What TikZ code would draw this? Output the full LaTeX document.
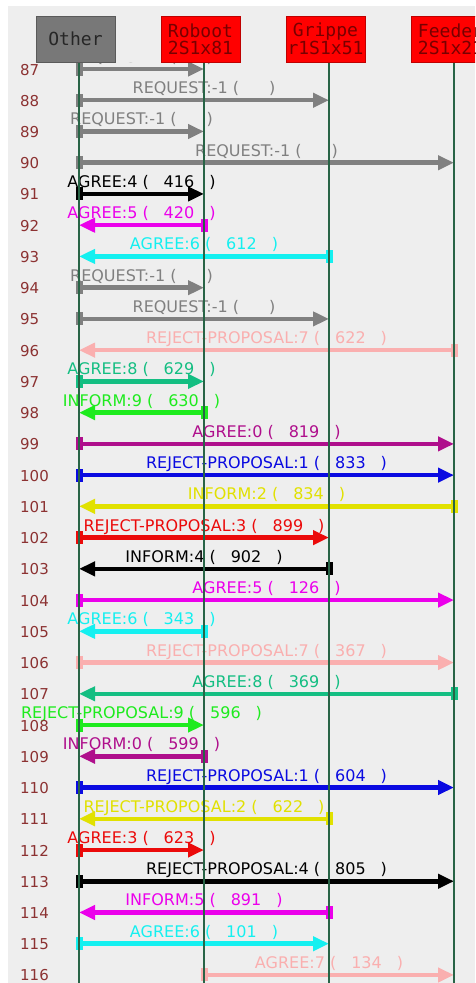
\documentclass[tikz,border=0pt]{standalone}
\usepackage{fontspec}
\setmainfont{DejaVu Sans}
\newfontfamily\hdmono{DejaVu Sans Mono}
\usetikzlibrary{arrows.meta, positioning, calc}
\definecolor{bgray} {RGB}{238,238,238}
\definecolor{lline} {RGB}{ 40,100, 70}
\definecolor{rownum}{RGB}{140, 50, 50}
\definecolor{hgray} {RGB}{120,120,120}
\definecolor{hdred} {RGB}{255,  0,  0}
\definecolor{hdtxt} {RGB}{120,  0,  0}
\definecolor{mgray} {RGB}{128,128,128}
\definecolor{mmag}  {RGB}{235,  0,235}
\definecolor{mcyan} {RGB}{ 20,240,240}
\definecolor{mpink} {RGB}{250,175,175}
\definecolor{mteal} {RGB}{ 20,190,130}
\definecolor{mgrn}  {RGB}{ 30,235, 30}
\definecolor{mpurp} {RGB}{175, 15,140}
\definecolor{mblue} {RGB}{ 10, 10,225}
\definecolor{myel}  {RGB}{225,225,  0}
\definecolor{mred}  {RGB}{235, 10, 10}
\newcommand{\msgtext}[2]{#1 (\hspace{15pt}#2\hspace{15pt})}
\tikzset{
  % Header box on top of a lifeline
  HB/.style={rectangle,draw=#1!75!black,fill=#1,line width=0.8pt,
             minimum width=79pt,minimum height=46pt,inner sep=0pt,
             align=center,font=\hdmono\fontsize{18pt}{17pt}\selectfont},
  % Lifeline
  LL/.style={line width=1.4pt,color=lline},
  % Message arrow
  MA/.style={-{Triangle[length=16pt,width=14pt]},line width=4.5pt,color=#1},
  % Sender mark
  SM/.style={rectangle,fill=#1,minimum width=7pt,minimum height=13pt,
             inner sep=0pt},
  % Message label
  ML/.style={anchor=base,inner sep=0pt,yshift=6.5pt,text=#1,
             font=\fontsize{16pt}{16pt}\selectfont},
  % Row number
  RN/.style={anchor=base west,inner sep=0pt,yshift=-6pt,text=rownum,
             font=\fontsize{15pt}{15pt}\selectfont},
}

\begin{document}
\begin{tikzpicture}[x=1pt,y=-1pt]
        \clip (0,0) rectangle (475,983);
        \fill[white] (0,0) rectangle (475,983);
        \fill[bgray] (8,6) rectangle (475,983);
        % Lifeline end points
        \foreach \i in {0,...,3}{
          \pgfmathsetmacro\xl{79+125*\i}
          \coordinate (top\i) at (\xl,62);
          \coordinate (bot\i) at (\xl,983);
        }
        % Messages: row / label / value / from / to / colour
        \foreach \n/\lab/\val/\a/\b/\col in {
            87/REQUEST:-1//0/1/mgray,
            88/REQUEST:-1//0/2/mgray,
            89/REQUEST:-1//0/1/mgray,
            90/REQUEST:-1//0/3/mgray,
            91/AGREE:4/416/0/1/black,
            92/AGREE:5/420/1/0/mmag,
            93/AGREE:6/612/2/0/mcyan,
            94/REQUEST:-1//0/1/mgray,
            95/REQUEST:-1//0/2/mgray,
            96/REJECT-PROPOSAL:7/622/3/0/mpink,
            97/AGREE:8/629/0/1/mteal,
            98/INFORM:9/630/1/0/mgrn,
            99/AGREE:0/819/0/3/mpurp,
            100/REJECT-PROPOSAL:1/833/0/3/mblue,
            101/INFORM:2/834/3/0/myel,
            102/REJECT-PROPOSAL:3/899/0/2/mred,
            103/INFORM:4/902/2/0/black,
            104/AGREE:5/126/0/3/mmag,
            105/AGREE:6/343/1/0/mcyan,
            106/REJECT-PROPOSAL:7/367/0/3/mpink,
            107/AGREE:8/369/3/0/mteal,
            108/REJECT-PROPOSAL:9/596/0/1/mgrn,
            109/INFORM:0/599/1/0/mpurp,
            110/REJECT-PROPOSAL:1/604/0/3/mblue,
            111/REJECT-PROPOSAL:2/622/2/0/myel,
            112/AGREE:3/623/0/1/mred,
            113/REJECT-PROPOSAL:4/805/0/3/black,
            114/INFORM:5/891/2/0/mmag,
            115/AGREE:6/101/0/2/mcyan,
            116/AGREE:7/134/1/3/mpink}{
          \pgfmathsetmacro\yy{69+31.24*(\n-87)}
          \pgfmathsetmacro\xa{79+125*\a}
          \pgfmathsetmacro\xb{79+125*\b}
          \coordinate (s\n) at (\xa,\yy);
          \coordinate (t\n) at (\xb,\yy);
          \draw[MA=\col] (s\n) -- (t\n);
          \node[SM=\col] (k\n) at (s\n) {};
          \node[ML=\col] (l\n) at ($(s\n)!0.5!(t\n)$) {\msgtext{\lab}{\val}};
          \node[RN] (n\n) at (20,\yy) {\n};
        }
        % Lifelines
        \foreach \i in {0,...,3}
          \draw[LL] (top\i) -- (bot\i);
        % Header panel hides what scrolled under it
        \fill[bgray] (8,6) rectangle (475,62);
        % Header boxes
        \node[HB=hgray,text=black!85] at (75.5,39) (other) {Other};
        \node[HB=hdred,text=hdtxt] at (200.5,39) (roboot)
              {Roboot\\2S1x81};
        \node[HB=hdred,text=hdtxt] at (325.5,39) (grippe)
              {Grippe\\r1S1x51};
        \node[HB=hdred,text=hdtxt] at (450.5,39) (feeder)
              {Feeder\\2S1x21};
      \end{tikzpicture}
\end{document}
